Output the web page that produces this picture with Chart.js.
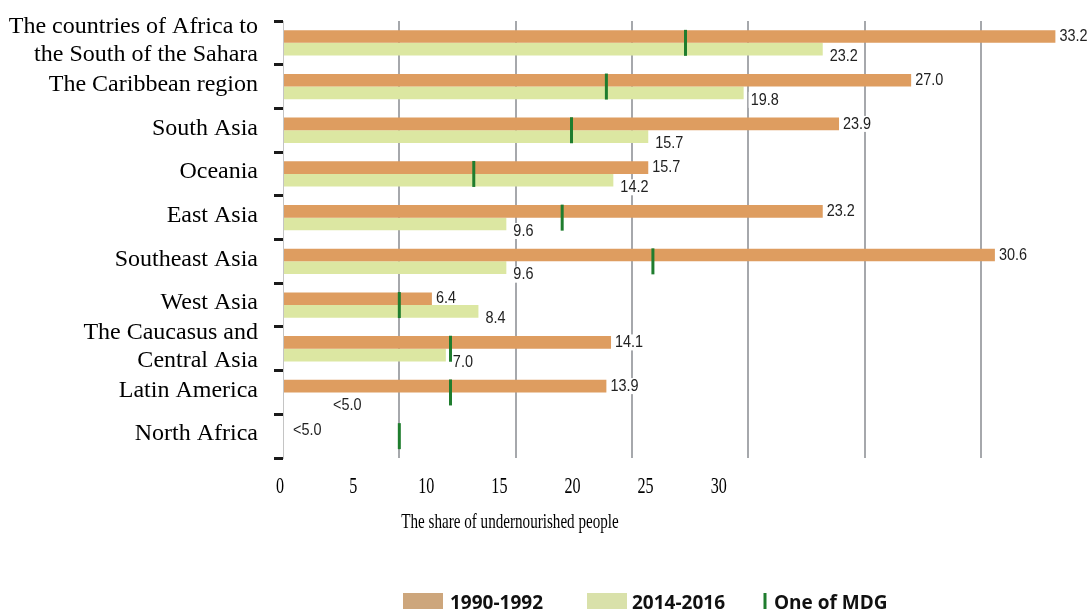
<!DOCTYPE html>
<html>
<head>
<meta charset="utf-8">
<script src="https://cdn.jsdelivr.net/npm/chart.js@4.4.1/dist/chart.umd.min.js"></script>
<style>
  html, body { margin: 0; padding: 0; background: #fff; }
  #wrap { width: 1090px; height: 609px; position: relative; }
</style>
</head>
<body>
<div id="wrap"><canvas id="hungerChart"></canvas></div>
<script>
const regions = [
  ['The countries of Africa to', 'the South of the Sahara'],
  'The Caribbean region',
  'South Asia',
  'Oceania',
  'East Asia',
  'Southeast Asia',
  'West Asia',
  ['The Caucasus and', 'Central Asia'],
  'Latin America',
  'North Africa'
];
const share1990 = [33.2, 27.0, 23.9, 15.7, 23.2, 30.6, 6.4, 14.1, 13.9, null];
const share2014 = [23.2, 19.8, 15.7, 14.2, 9.6, 9.6, 8.4, 7.0, null, null];
const mdgTarget = [17.3, 13.9, 12.4, 8.2, 12.0, 15.9, 5.0, 7.2, 7.2, 5.0];
const labels1990 = ['33.2', '27.0', '23.9', '15.7', '23.2', '30.6', '6.4', '14.1', '13.9', '<5.0'];
const labels2014 = ['23.2', '19.8', '15.7', '14.2', '9.6', '9.6', '8.4', '7.0', '<5.0', ''];
const xTicks = [0, 5, 10, 15, 20, 25, 30];
const seriesNames = ['1990-1992', '2014-2016', 'One of MDG'];
const axisTitle = 'The share of undernourished people';

const ORANGE = '#de9d60';
const PALE = '#dce7a2';
const MDG = '#1f7d2e';
const SERIF = '"Liberation Serif", "Times New Roman", serif';

// value labels with white backing, drawn under the bars/markers
const valueLabels = {
  id: 'valueLabels',
  beforeDatasetsDraw(chart) {
    const ctx = chart.ctx;
    const x0 = chart.scales.x.getPixelForValue(0);
    const yScale = chart.scales.y;
    const half = yScale.height / regions.length * 0.58 / 4;
    const sets = [
      { texts: labels1990, dx: 4, dy: 0, nullX: 10, side: -1 },
      { texts: labels2014, dx: 7, dy: 7, nullX: 50, side: 1 }
    ];
    ctx.save();
    ctx.font = '17px "Liberation Sans", Arial, sans-serif';
    ctx.textBaseline = 'middle';
    sets.forEach((s, i) => {
      const vals = chart.data.datasets[i].data;
      const meta = chart.getDatasetMeta(i);
      s.texts.forEach((t, j) => {
        if (!t) return;
        const yc = yScale.getPixelForValue(j) + s.side * half;
        const x = vals[j] == null ? x0 + s.nullX : meta.data[j].x + s.dx;
        const y = yc + s.dy;
        const w = ctx.measureText(t).width * 0.85;
        ctx.fillStyle = '#fff';
        ctx.fillRect(x - 2, y - 8, w + 4, 16);
        ctx.save();
        ctx.translate(x, y);
        ctx.scale(0.85, 1);
        ctx.fillStyle = '#222';
        ctx.fillText(t, 0, 0);
        ctx.restore();
      });
    });
    ctx.restore();
  }
};

// tick numbers, axis title and legend under the plot
const footer = {
  id: 'footer',
  afterDraw(chart) {
    const ctx = chart.ctx;
    const x2 = chart.scales.x2;
    ctx.save();
    ctx.fillStyle = '#000';
    ctx.textAlign = 'center';
    ctx.textBaseline = 'middle';
    ctx.font = '23px ' + SERIF;
    xTicks.forEach(v => {
      ctx.save();
      ctx.translate(x2.getPixelForValue(v), 487);
      ctx.scale(0.7, 1);
      ctx.fillText(String(v), 0, 0);
      ctx.restore();
    });

    ctx.font = '21px ' + SERIF;
    ctx.save();
    ctx.translate(510, 522);
    ctx.scale(0.72, 1);
    ctx.fillText(axisTitle, 0, 0);
    ctx.restore();

    const items = [
      { kind: 'box', color: '#cda67c', x: 403, tx: 450 },
      { kind: 'box', color: '#d9e1aa', x: 587, tx: 632 },
      { kind: 'line', color: MDG, x: 765, tx: 774 }
    ];
    ctx.font = 'bold 19px "Open Sans", sans-serif';
    ctx.textAlign = 'left';
    ctx.textBaseline = 'alphabetic';
    items.forEach((it, i) => {
      ctx.fillStyle = it.color;
      if (it.kind === 'box') ctx.fillRect(it.x, 593, 40, 18);
      else ctx.fillRect(it.x - 1.5, 593, 3, 18);
      ctx.fillStyle = '#111';
      ctx.fillText(seriesNames[i], it.tx, 609);
    });
    ctx.restore();
  }
};

new Chart(document.getElementById('hungerChart'), {
  type: 'bar',
  data: {
    labels: regions,
    datasets: [
      {
        label: seriesNames[0],
        data: share1990,
        backgroundColor: ORANGE,
        borderWidth: 0,
        categoryPercentage: 0.58,
        barPercentage: 1
      },
      {
        label: seriesNames[1],
        data: share2014,
        backgroundColor: PALE,
        borderWidth: 0,
        categoryPercentage: 0.58,
        barPercentage: 1
      },
      {
        type: 'line',
        label: seriesNames[2],
        data: mdgTarget,
        indexAxis: 'y',
        showLine: false,
        order: -1,
        pointStyle: 'line',
        rotation: 90,
        pointRadius: 13,
        pointHoverRadius: 13,
        pointBorderWidth: 3,
        pointBorderColor: MDG,
        pointBackgroundColor: MDG
      }
    ]
  },
  options: {
    indexAxis: 'y',
    responsive: true,
    maintainAspectRatio: false,
    animation: false,
    layout: { padding: { left: 8, right: 14, top: 21, bottom: 151 } },
    scales: {
      y: {
        type: 'category',
        grid: {
          offset: true,
          drawOnChartArea: false,
          drawTicks: true,
          tickLength: 9,
          tickColor: '#1a1a1a',
          tickWidth: 3
        },
        border: { display: true, color: '#c4c4c4', width: 1 },
        ticks: {
          padding: 16,
          labelOffset: -2,
          color: '#000',
          autoSkip: false,
          font: { family: SERIF, size: 24, lineHeight: 1.14 }
        },
        afterFit(scale) {
          scale.width = 275;
          scale.paddingTop = 0;
          scale.paddingBottom = 0;
        }
      },
      x: {
        type: 'linear',
        min: 0,
        max: 34,
        position: 'bottom',
        border: { display: false },
        grid: {
          drawTicks: false,
          lineWidth: 2,
          color: c => (c.tick && c.tick.value > 0 && c.tick.value <= 30 && c.tick.value % 5 === 0) ? '#a6a8ac' : 'rgba(0,0,0,0)'
        },
        ticks: { display: false, stepSize: 5 }
      },
      x2: {
        type: 'linear',
        min: 0.2,
        max: 54.3,
        position: 'bottom',
        border: { display: false },
        grid: { display: false, drawTicks: false },
        ticks: { display: false, stepSize: 5 }
      }
    },
    plugins: {
      legend: { display: false },
      tooltip: { enabled: false }
    }
  },
  plugins: [valueLabels, footer]
});
</script>
</body>
</html>
